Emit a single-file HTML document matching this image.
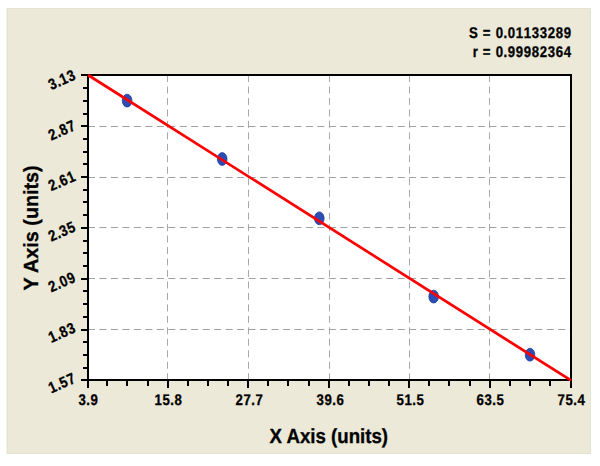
<!DOCTYPE html><html><head><meta charset="utf-8"><style>
html,body{margin:0;padding:0;background:#fff;width:600px;height:466px;overflow:hidden}
svg{position:absolute;left:0;top:0;display:block}
text{font-family:"Liberation Sans",Arial,sans-serif;font-weight:bold;fill:#000;stroke:#000;stroke-width:0.3px;paint-order:stroke;text-rendering:geometricPrecision}
</style></head><body>
<svg width="600" height="466" viewBox="0 0 600 466">
<rect x="7" y="8" width="584" height="446" fill="#ECE9D8"/>
<rect x="7.5" y="8.5" width="583" height="445" fill="none" stroke="#e4e3d3" stroke-width="1"/>
<rect x="6" y="8" width="1" height="446" fill="#f5f5ec"/>
<rect x="88.0" y="75.0" width="483.0" height="305.0" fill="#fff"/>
<path d="M167.5 75.0V380.0M248.5 75.0V380.0M329.5 75.0V380.0M409.5 75.0V380.0M489.5 75.0V380.0" stroke="#a8a8a8" stroke-width="1" stroke-dasharray="7 4.47" fill="none"/>
<path d="M88.0 126.5H571.0M88.0 177.5H571.0M88.0 227.5H571.0M88.0 278.5H571.0M88.0 329.5H571.0" stroke="#a0a0a0" stroke-width="1" stroke-dasharray="7 4.47" fill="none"/>
<path d="M81 75.0H88.0M83 88H88.0M83 101H88.0M83 114H88.0M81 126H88.0M83 139H88.0M83 152H88.0M83 164H88.0M81 177H88.0M83 190H88.0M83 202H88.0M83 215H88.0M81 228H88.0M83 241H88.0M83 253H88.0M83 266H88.0M81 279H88.0M83 291H88.0M83 304H88.0M83 317H88.0M81 330H88.0M83 342H88.0M83 355H88.0M83 368H88.0M81 380.0H88.0M88.0 380.0V388M107 380.0V386M127 380.0V386M148 380.0V386M168 380.0V388M188 380.0V386M208 380.0V386M228 380.0V386M248 380.0V388M268 380.0V386M288 380.0V386M309 380.0V386M329 380.0V388M349 380.0V386M369 380.0V386M389 380.0V386M409 380.0V388M429 380.0V386M449 380.0V386M470 380.0V386M490 380.0V388M510 380.0V386M530 380.0V386M550 380.0V386M571.0 380.0V388" stroke="#000" stroke-width="2" fill="none"/>
<rect x="88.0" y="75.0" width="483.0" height="305.0" fill="none" stroke="#000" stroke-width="2"/>
<ellipse cx="127.1" cy="100.6" rx="4.8" ry="6.4" fill="#2c4db4" stroke="#1e3a9a" stroke-width="0.8"/>
<ellipse cx="222.2" cy="159.0" rx="4.8" ry="6.4" fill="#2c4db4" stroke="#1e3a9a" stroke-width="0.8"/>
<ellipse cx="319.3" cy="218.3" rx="4.8" ry="6.4" fill="#2c4db4" stroke="#1e3a9a" stroke-width="0.8"/>
<ellipse cx="433.65" cy="296.6" rx="4.8" ry="6.4" fill="#2c4db4" stroke="#1e3a9a" stroke-width="0.8"/>
<ellipse cx="530.0" cy="354.7" rx="4.8" ry="6.4" fill="#2c4db4" stroke="#1e3a9a" stroke-width="0.8"/>
<line x1="88.0" y1="75.0" x2="571.0" y2="380.4" stroke="#ff0000" stroke-width="2.7"/>
<text font-size="15" transform="translate(0 404.6) scale(0.88 1.03)" x="89.18 98.00 102.82" y="0">3.9</text>
<text font-size="15" transform="translate(0 404.6) scale(0.88 1.03)" x="175.55 184.64 193.45 198.27" y="0">15.8</text>
<text font-size="15" transform="translate(0 404.6) scale(0.88 1.03)" x="267.59 276.68 285.50 290.32" y="0">27.7</text>
<text font-size="15" transform="translate(0 404.6) scale(0.88 1.03)" x="359.64 368.73 377.55 382.36" y="0">39.6</text>
<text font-size="15" transform="translate(0 404.6) scale(0.88 1.03)" x="450.55 459.64 468.45 473.27" y="0">51.5</text>
<text font-size="15" transform="translate(0 404.6) scale(0.88 1.03)" x="541.45 550.55 559.36 564.18" y="0">63.5</text>
<text font-size="15" transform="translate(0 404.6) scale(0.88 1.03)" x="633.50 642.59 651.41 656.23" y="0">75.4</text>
<text font-size="15" transform="translate(76.5 79.00) rotate(-24) scale(0.88 1.03)" x="-31.27 -22.45 -17.64 -8.55" y="0">3.13</text>
<text font-size="15" transform="translate(76.5 129.55) rotate(-24) scale(0.88 1.03)" x="-31.27 -22.45 -17.64 -8.55" y="0">2.87</text>
<text font-size="15" transform="translate(76.5 180.10) rotate(-24) scale(0.88 1.03)" x="-31.27 -22.45 -17.64 -8.55" y="0">2.61</text>
<text font-size="15" transform="translate(76.5 230.65) rotate(-24) scale(0.88 1.03)" x="-31.27 -22.45 -17.64 -8.55" y="0">2.35</text>
<text font-size="15" transform="translate(76.5 281.20) rotate(-24) scale(0.88 1.03)" x="-31.27 -22.45 -17.64 -8.55" y="0">2.09</text>
<text font-size="15" transform="translate(76.5 331.75) rotate(-24) scale(0.88 1.03)" x="-31.27 -22.45 -17.64 -8.55" y="0">1.83</text>
<text font-size="15" transform="translate(76.5 382.30) rotate(-24) scale(0.88 1.03)" x="-31.27 -22.45 -17.64 -8.55" y="0">1.57</text>
<text font-size="15" transform="translate(0 38.0) scale(0.88 1.03)" x="532.84 543.80 548.68 558.57 563.39 572.20 577.02 586.11 595.20 604.30 613.39 622.48 631.57 640.66" y="0">S = 0.01133289</text>
<text font-size="15" transform="translate(0 56.8) scale(0.88 1.03)" x="537.11 543.80 548.68 558.57 563.39 572.20 577.02 586.11 595.20 604.30 613.39 622.48 631.57 640.66" y="0">r = 0.99982364</text>
<text font-size="19" text-anchor="middle" transform="translate(328.8 443.2) scale(0.982 1.08)">X Axis (units)</text>
<text font-size="19" text-anchor="middle" transform="translate(37.6 227.9) rotate(-90) scale(1.04 1.08)">Y Axis (units)</text>
</svg></body></html>
